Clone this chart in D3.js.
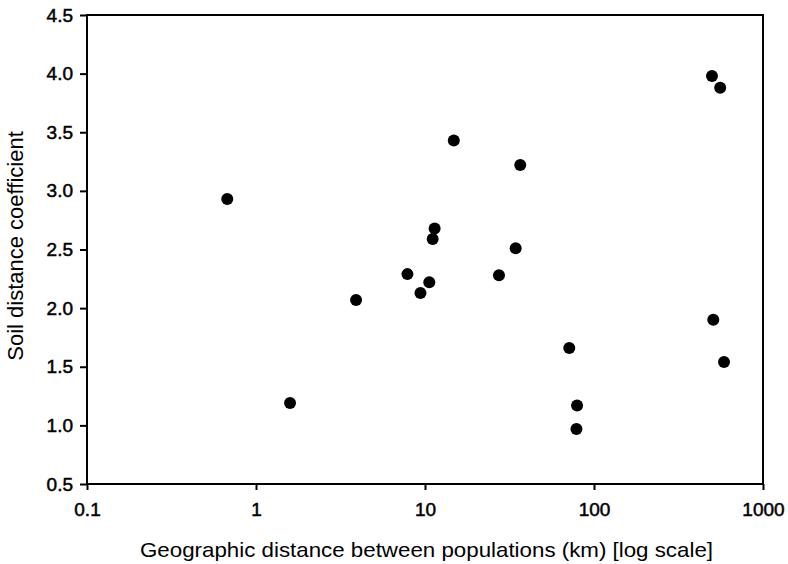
<!DOCTYPE html>
<html>
<head>
<meta charset="utf-8">
<script src="https://cdn.jsdelivr.net/npm/d3@7/dist/d3.min.js"></script>
<style>
  html, body { margin: 0; padding: 0; background: #fff; }
  svg { display: block; }
  text { font-family: "Liberation Sans", Arial, sans-serif; fill: #000; }
</style>
</head>
<body>
<svg id="chart" width="788" height="564"></svg>
<script>
const distanceKm = [0.676, 1.59, 3.91, 7.87, 9.4, 10.6, 11.1, 11.4, 14.8, 27.4, 34.4, 36.6, 71.4, 79.4, 78.7, 499, 558, 508, 588];
const soilCoeff  = [2.93, 1.19, 2.07, 2.29, 2.13, 2.22, 2.59, 2.68, 3.43, 2.28, 2.51, 3.22, 1.66, 1.17, 0.97, 3.98, 3.88, 1.90, 1.54];
const xTicks = [0.1, 1, 10, 100, 1000];
const xTickLabels = ["0.1", "1", "10", "100", "1000"];
const yTicks = [0.5, 1.0, 1.5, 2.0, 2.5, 3.0, 3.5, 4.0, 4.5];
const xTitle = "Geographic distance between populations (km) [log scale]";
const yTitle = "Soil distance coefficient";

const svg = d3.select("#chart");
const mLeft = 87, mRight = 763, mTop = 15, mBottom = 484;

const x = d3.scaleLog().domain([0.1, 1000]).range([mLeft, mRight]);
const y = d3.scaleLinear().domain([0.5, 4.5]).range([mBottom, mTop]);

// frame
svg.append("rect")
  .attr("x", mLeft).attr("y", mTop)
  .attr("width", mRight - mLeft).attr("height", mBottom - mTop)
  .attr("fill", "none").attr("stroke", "#000").attr("stroke-width", 2);

// x axis
const xAxis = svg.append("g")
  .attr("transform", `translate(0,${mBottom})`)
  .call(d3.axisBottom(x).tickValues(xTicks).tickFormat((d, i) => xTickLabels[i]).tickSize(6).tickPadding(13));
xAxis.select(".domain").remove();
xAxis.selectAll("line").attr("stroke", "#000").attr("stroke-width", 2);
xAxis.selectAll("text").attr("font-size", 19).attr("font-family", "Liberation Sans, Arial, sans-serif")
  .style("paint-order", "stroke").attr("stroke", "#000").attr("stroke-width", 0.5);

// y axis
const yAxis = svg.append("g")
  .attr("transform", `translate(${mLeft},0)`)
  .call(d3.axisLeft(y).tickValues(yTicks).tickFormat(d3.format(".1f")).tickSize(7).tickPadding(7));
yAxis.select(".domain").remove();
yAxis.selectAll("line").attr("stroke", "#000").attr("stroke-width", 2);
yAxis.selectAll("text").attr("font-size", 19).attr("font-family", "Liberation Sans, Arial, sans-serif")
  .style("paint-order", "stroke").attr("stroke", "#000").attr("stroke-width", 0.5);

// points
svg.append("g").selectAll("circle")
  .data(distanceKm.map((d, i) => ({x: d, y: soilCoeff[i]})))
  .join("circle")
  .attr("cx", d => x(d.x))
  .attr("cy", d => y(d.y))
  .attr("r", 6)
  .attr("fill", "#000");

// titles
svg.append("text")
  .attr("x", 426.5).attr("y", 557)
  .attr("text-anchor", "middle").attr("font-size", 21)
  .attr("textLength", 573).attr("lengthAdjust", "spacingAndGlyphs")
  .text(xTitle);

svg.append("text")
  .attr("transform", `translate(23,246) rotate(-90)`)
  .attr("text-anchor", "middle").attr("font-size", 22)
  .text(yTitle);
</script>
</body>
</html>
